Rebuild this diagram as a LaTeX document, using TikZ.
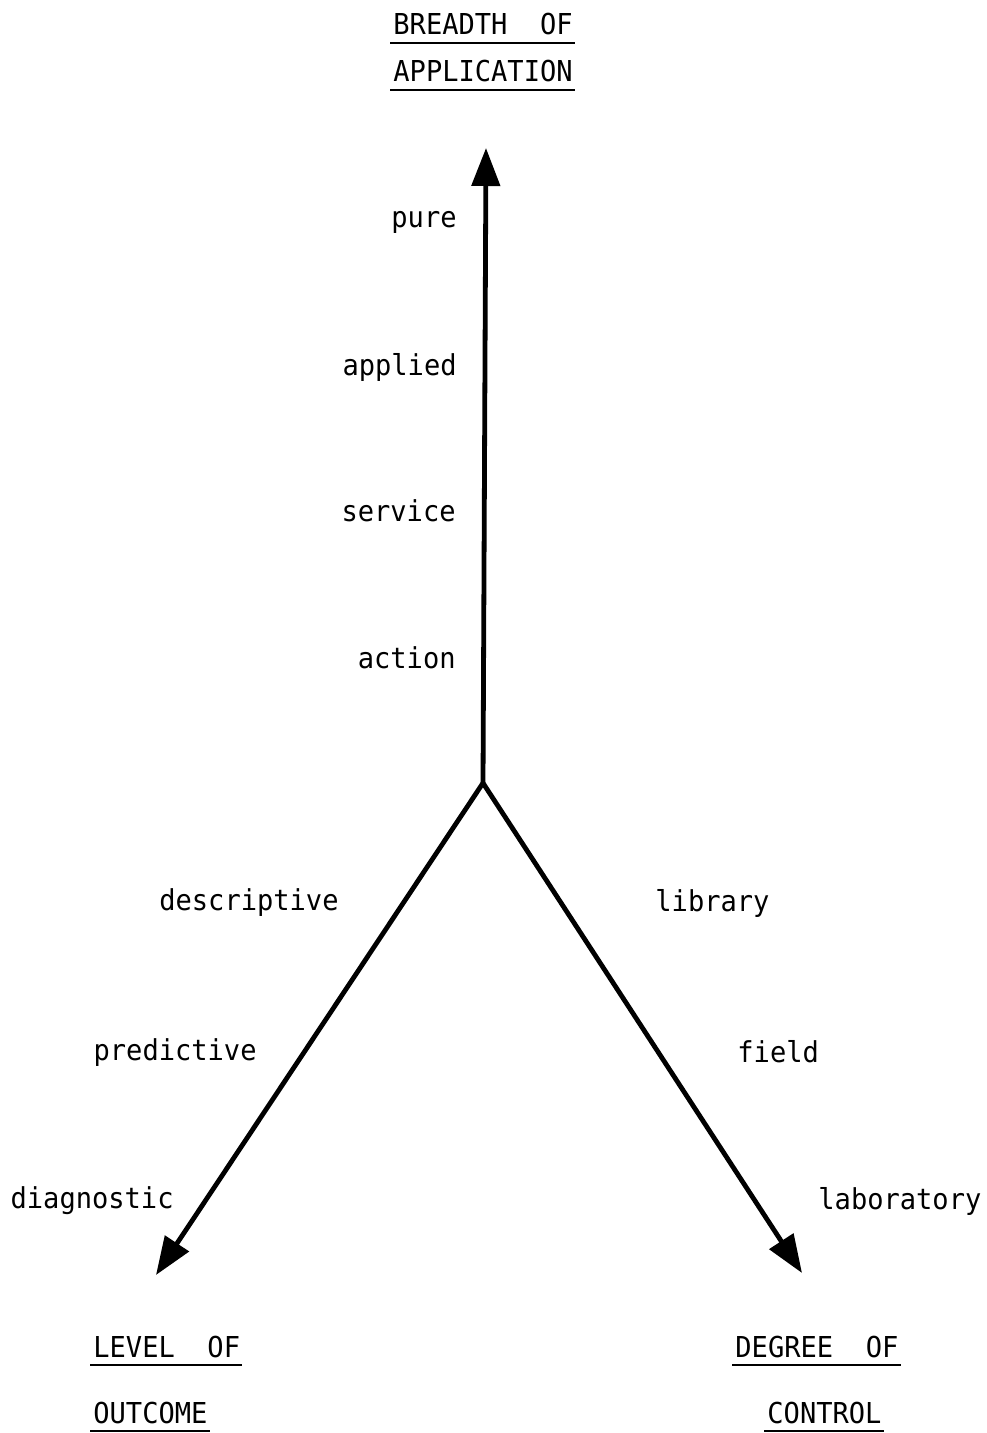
\documentclass[tikz,border=0pt]{standalone}
\usepackage{fontspec}
\newfontfamily\typew[FakeStretch=0.94]{DejaVu Sans Mono}
\usetikzlibrary{arrows.meta}

\begin{document}
\begin{tikzpicture}[x=0.5pt,y=-0.5pt,
	axis/.style={line width=2.4pt,-{Triangle[length=19pt,width=14pt]}},
	lbl/.style={inner sep=0pt,font=\typew\fontsize{14.4}{17}\selectfont},
	heading/.style={lbl},
	uline/.style={line width=1.2pt}]
	\useasboundingbox (0,0) rectangle (986,1433);
	
	%AXES
	\coordinate (hub) at (483,783);
	\coordinate (breadth) at (486,148);
	\coordinate (outcome) at (156,1275);
	\coordinate (control) at (802,1273);
	\draw[axis] (hub)--(breadth);
	\draw[axis] (hub)--(outcome);
	\draw[axis] (hub)--(control);
	
	%TOP
	\node[heading,anchor=base west] (bre) at (393,35) {BREADTH\ \ OF};
	\node[heading,anchor=base west] (app) at (393,82) {APPLICATION};
	\node[lbl,anchor=base east] (pure) at (457,228) {pure};
	\node[lbl,anchor=base east] (applied) at (457,375) {applied};
	\node[lbl,anchor=base east] (service) at (456,521) {service};
	\node[lbl,anchor=base east] (action) at (456,668) {action};
	
	%LEFT
	\node[lbl,anchor=base east] (descr) at (339,910) {descriptive};
	\node[lbl,anchor=base east] (pred) at (257,1060) {predictive};
	\node[lbl,anchor=base east] (diag) at (174,1208) {diagnostic};
	\node[heading,anchor=base west] (lev) at (93,1357) {LEVEL\ \ OF};
	\node[heading,anchor=base west] (out) at (93,1423) {OUTCOME};
	
	%RIGHT
	\node[lbl,anchor=base west] (lib) at (655,911) {library};
	\node[lbl,anchor=base west] (field) at (737,1062) {field};
	\node[lbl,anchor=base west] (lab) at (818,1209) {laboratory};
	\node[heading,anchor=base west] (deg) at (735,1357) {DEGREE\ \ OF};
	\node[heading,anchor=base west] (con) at (767,1423) {CONTROL};
	
	%underlines
	\foreach \h in {bre,app,lev,out,deg,con}
		\draw[uline] ([xshift=-1.5pt,yshift=-4pt]\h.base west)--([xshift=1pt,yshift=-4pt]\h.base east);
\end{tikzpicture}
\end{document}
